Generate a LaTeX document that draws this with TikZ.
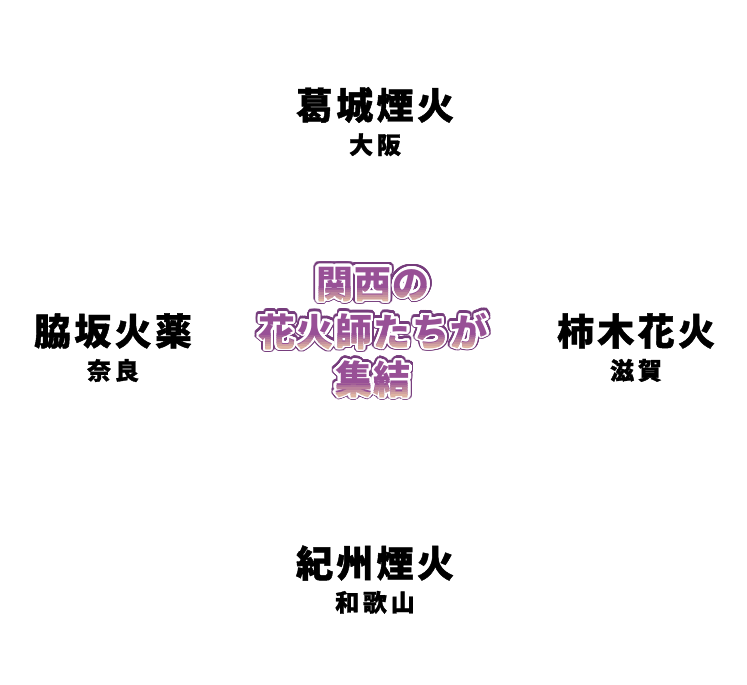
\documentclass[tikz,border=0pt]{standalone}
\usepackage{fontspec}
\usepackage{contour}
\usetikzlibrary{positioning}
\newfontfamily\jpspaced{Noto Sans CJK JP}[BoldFont={Noto Sans CJK JP Black},BoldFeatures={FakeBold=1.2},LetterSpace=9]
\newfontfamily\jpwide{Noto Sans CJK JP}[BoldFont={Noto Sans CJK JP Black},BoldFeatures={FakeBold=1.2},LetterSpace=16]
\newfontfamily\jpcatch{Noto Sans CJK JP}[BoldFont={Noto Sans CJK JP Black},LetterSpace=4]
\definecolor{edgepurple}{RGB}{118,60,124}
\definecolor{fillpurple}{RGB}{152,80,150}
\definecolor{filltan}{RGB}{222,180,162}
\contournumber{40}
\tikzset{
	maker/.style={inner sep=0pt,font=\jpspaced\bfseries\fontsize{37}{37}\selectfont},
	pref/.style={inner sep=0pt,font=\jpwide\bfseries\fontsize{24}{24}\selectfont},
	catch/.style={inner sep=0pt,font=\jpcatch\bfseries\fontsize{37}{37}\selectfont}
}
% one line of the purple title: edge, white rim, then the fill from purple to tan
\newcommand\catchline[3]{%
	\node[catch] (#1-edge) at (373,#2) {\contourlength{4.2pt}\contour{edgepurple}{#3}};
	\node[catch,text=fillpurple] (#1) at (373,#2) {\contourlength{2.3pt}\contour{white}{#3}};
	\foreach \k in {0,...,6}
	{
		\pgfmathtruncatemacro\mix{\k*100/6}
		\colorlet{bandcol}{filltan!\mix!fillpurple}
		\begin{scope}
			\clip (200,#2+1+2.3*\k) rectangle (550,#2+3.3+2.3*\k+\ifnum\k=6 20\else0\fi);
			\node[catch,text=bandcol] (#1-\k) at (373,#2) {#3};
		\end{scope}
	}
}
\begin{document}
\begin{tikzpicture}[x=1pt,y=-1pt]
	\useasboundingbox (0,0) rectangle (747,685);

	% draw the four makers
	\node[maker] (katsuragi) at (375,105) {葛城煙火};
	\node[pref,below=10pt of katsuragi] (osaka) {大阪};

	\node[maker] (wakisaka) at (113,331) {脇坂火薬};
	\node[pref,below=10pt of wakisaka] (nara) {奈良};

	\node[maker] (kakinoki) at (636,331) {柿木花火};
	\node[pref,below=10pt of kakinoki] (shiga) {滋賀};

	\node[maker] (kishu) at (375,563) {紀州煙火};
	\node[pref,below=10pt of kishu] (wakayama) {和歌山};

	% draw purple title in the middle
	\catchline{kansai}{285}{関西の}
	\catchline{hanabishi}{332}{花火師たちが}
	\catchline{shuketsu}{380}{集結}
\end{tikzpicture}
\end{document}
